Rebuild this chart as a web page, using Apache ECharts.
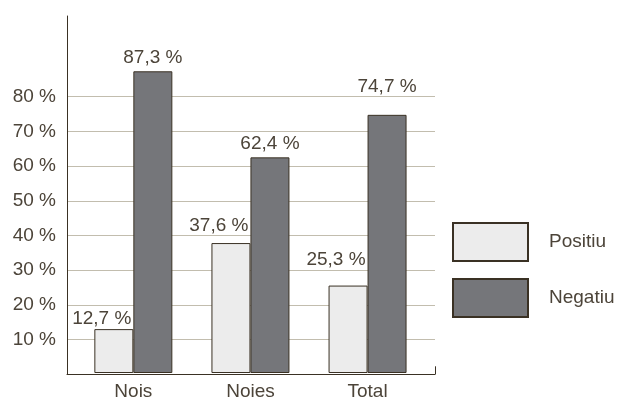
<!DOCTYPE html>
<html>
<head>
<meta charset="utf-8">
<script src="https://cdn.jsdelivr.net/npm/echarts@6/dist/echarts.min.js"></script>
<style>html,body{margin:0;padding:0;background:#fff;}#c{width:618px;height:401px;}</style>
</head>
<body>
<div id="c"></div>
<script>
var categories = ['Nois', 'Noies', 'Total'];
var positiu = [12.7, 37.6, 25.3];
var negatiu = [87.3, 62.4, 74.7];
var seriesNames = ['Positiu', 'Negatiu'];
var yTicks = [10, 20, 30, 40, 50, 60, 70, 80];

var FONT = '"Liberation Sans", Arial, sans-serif';
var TXT = '#4c4439';
var DARK = '#3a3124';
function fmt(v){ return v.toFixed(1).replace('.', ',') + ' %'; }

var posLift = [0.5, 8, 16];
var negLift = [4.5, 4, 19];

var chart = echarts.init(document.getElementById('c'), null, {renderer: 'canvas'});
chart.setOption({
  animation: false,
  backgroundColor: '#ffffff',
  textStyle: {fontFamily: FONT},
  grid: [
    {left: 67, width: 368, top: 96.7, bottom: 26.7},
    {left: 74.8, width: 351.3, top: 16, bottom: 26.7}
  ],
  xAxis: [
    {gridIndex: 0, type: 'value', min: 0, max: 1, interval: 1,
     axisLine: {show: true, lineStyle: {color: DARK, width: 1}},
     axisTick: {show: true, inside: true, length: 8, lineStyle: {color: DARK}},
     axisLabel: {show: false}, splitLine: {show: false}},
    {gridIndex: 1, type: 'category', data: categories,
     axisLine: {show: false}, axisTick: {show: false},
     axisLabel: {color: TXT, fontSize: 19, fontFamily: FONT, margin: 9}}
  ],
  yAxis: [
    {gridIndex: 0, type: 'value', min: 0, max: yTicks[yTicks.length - 1], interval: 10,
     axisLine: {show: false}, axisTick: {show: false},
     axisLabel: {color: TXT, fontSize: 19, fontFamily: FONT, margin: 11, showMinLabel: false,
                 formatter: function(v){ return v + ' %'; }},
     splitLine: {show: true, lineStyle: {color: '#c2bdae', width: 1}}},
    {gridIndex: 1, type: 'value', min: 0, max: 103.3, offset: 7.8,
     axisLine: {show: true, lineStyle: {color: DARK, width: 1}},
     axisTick: {show: false}, axisLabel: {show: false}, splitLine: {show: false}}
  ],
  legend: {
    orient: 'vertical', left: 452, top: 222, padding: 0,
    icon: 'rect',
    itemWidth: 75, itemHeight: 38, itemGap: 16,
    textStyle: {color: TXT, fontSize: 19, fontFamily: FONT, padding: [0, 0, 0, 16]},
    data: seriesNames
  },
  series: [
    {name: seriesNames[0], type: 'bar', xAxisIndex: 1, yAxisIndex: 1,
     barWidth: 39, barGap: '0%',
     itemStyle: {color: '#ececec', borderColor: DARK, borderWidth: 1},
     label: {show: true, position: ['100%', 0], align: 'right', verticalAlign: 'bottom',
             color: TXT, fontSize: 19, fontFamily: FONT,
             formatter: function(p){ return fmt(p.value); }},
     data: positiu.map(function(v, i){ return {value: v, label: {offset: [-2, -posLift[i]]}}; })},
    {name: seriesNames[1], type: 'bar', xAxisIndex: 1, yAxisIndex: 1,
     barWidth: 39, barGap: '0%',
     itemStyle: {color: '#75767a', borderColor: DARK, borderWidth: 1},
     label: {show: true, position: 'top', distance: 0,
             color: TXT, fontSize: 19, fontFamily: FONT,
             formatter: function(p){ return fmt(p.value); }},
     data: negatiu.map(function(v, i){ return {value: v, label: {offset: [0, -negLift[i]]}}; })}
  ]
});
</script>
</body>
</html>
